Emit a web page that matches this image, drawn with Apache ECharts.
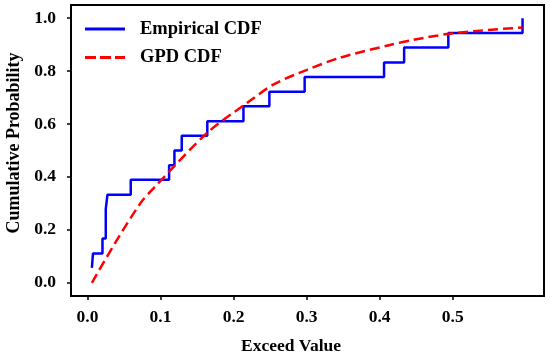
<!DOCTYPE html>
<html>
<head>
<meta charset="utf-8">
<script src="https://cdn.jsdelivr.net/npm/echarts@6/dist/echarts.min.js"></script>
<style>html,body{margin:0;padding:0;background:#fff}#c{width:550px;height:356px}</style>
</head>
<body>
<div id="c"></div>
<script>
// Empirical CDF (sorted exceedances and cumulative probabilities)
var empX = [0.0060, 0.0075, 0.0205, 0.0250, 0.0250, 0.0273, 0.0592, 0.1117, 0.1190, 0.1290, 0.1640, 0.2135, 0.2490, 0.2973, 0.4060, 0.4335, 0.4940, 0.5956];
var empY = [0.056, 0.111, 0.167, 0.222, 0.278, 0.333, 0.389, 0.444, 0.500, 0.556, 0.611, 0.667, 0.722, 0.778, 0.833, 0.889, 0.944, 1.000];
// Fitted GPD CDF
var gpdX = [0.006, 0.0364, 0.0728, 0.091, 0.164, 0.2186, 0.255, 0.3005, 0.346, 0.414, 0.446, 0.492, 0.537, 0.5956];
var gpdY = [0.000, 0.144, 0.302, 0.359, 0.567, 0.680, 0.750, 0.805, 0.851, 0.899, 0.918, 0.940, 0.953, 0.965];
// Tick labels
var xTicks = [0.0, 0.1, 0.2, 0.3, 0.4, 0.5];
var yTicks = [0.0, 0.2, 0.4, 0.6, 0.8, 1.0];
var seriesNames = ['Empirical CDF', 'GPD CDF'];

var FONT = 'Liberation Serif';
function pairs(xs, ys){ return xs.map(function(x,i){ return [x, ys[i]]; }); }

var chart = echarts.init(document.getElementById('c'), null, {renderer:'canvas'});
chart.setOption({
  animation: false,
  backgroundColor: '#fff',
  grid: {left: 71, right: 6, top: 5, bottom: 60, show: true, borderColor: '#000', borderWidth: 2,
         backgroundColor: 'transparent', outerBoundsMode: 'none', containLabel: false},
  legend: {
    orient: 'vertical', left: 80, top: 14,
    itemWidth: 40, itemHeight: 3, itemGap: 8.4,
    data: [
      {name: seriesNames[0], icon: 'path://M0,0H40V3H0Z'},
      {name: seriesNames[1], icon: 'path://M0,0H11V3H0Z M15,0H26V3H15Z M30,0H40V3H30Z'}
    ],
    textStyle: {fontFamily: FONT, fontWeight: 'bold', fontSize: 18.5, color: '#000', lineHeight: 20, padding: [0,0,0,10]}
  },
  xAxis: {
    type: 'value', min: -0.0226, max: 0.625,
    splitLine: {show: false},
    axisLine: {show: true, onZero: false, lineStyle: {color: '#000', width: 2}},
    axisTick: {show: true, length: 4, customValues: xTicks, lineStyle: {color: '#000', width: 1.5}},
    axisLabel: {customValues: xTicks, margin: 12, fontFamily: FONT, fontWeight: 'bold', fontSize: 17.5, color: '#000',
      formatter: function(v){ return v.toFixed(1); }},
    name: 'Exceed Value', nameLocation: 'middle', nameGap: 41,
    nameTextStyle: {fontFamily: FONT, fontWeight: 'bold', fontSize: 17.5, color: '#000', padding: [0, 33, 0, 0]}
  },
  yAxis: {
    type: 'value', min: -0.05, max: 1.05,
    splitLine: {show: false},
    axisLine: {show: true, onZero: false, lineStyle: {color: '#000', width: 2}},
    axisTick: {show: true, length: 4, customValues: yTicks, lineStyle: {color: '#000', width: 1.5}},
    axisLabel: {customValues: yTicks, margin: 15, fontFamily: FONT, fontWeight: 'bold', fontSize: 17.5, color: '#000',
      formatter: function(v){ return v.toFixed(1); }},
    name: 'Cumulative Probability', nameLocation: 'middle', nameGap: 46, nameRotate: 90,
    nameTextStyle: {fontFamily: FONT, fontWeight: 'bold', fontSize: 18, color: '#000', padding: [0, 0, 0, 15]}
  },
  series: [
    {name: seriesNames[0], type: 'line', step: 'end', showSymbol: false, symbol: 'none',
     data: pairs(empX, empY), lineStyle: {color: '#0000ff', width: 2.5}, itemStyle: {color: '#0000ff'}},
    {name: seriesNames[1], type: 'line', smooth: 0.3, showSymbol: false, symbol: 'none',
     data: pairs(gpdX, gpdY), lineStyle: {color: '#ff0000', width: 2.5, type: [10, 5]}, itemStyle: {color: '#ff0000'}}
  ]
});
</script>
</body>
</html>
